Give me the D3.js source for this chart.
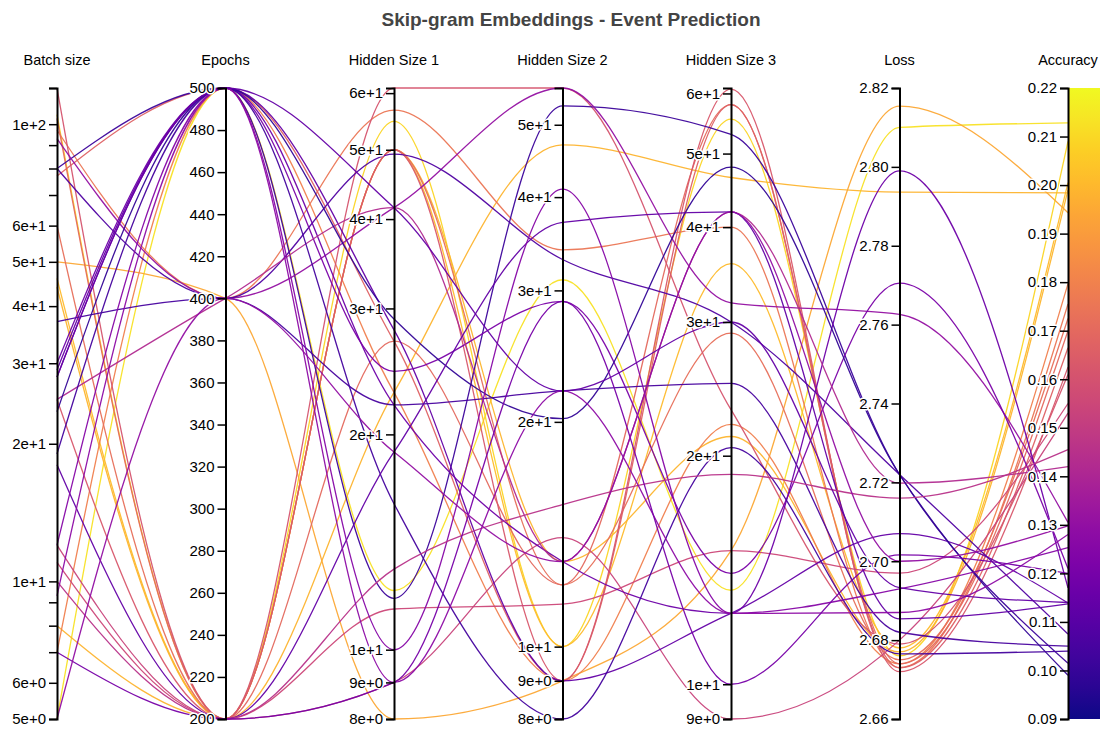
<!DOCTYPE html>
<html>
<head>
<meta charset="utf-8">
<script src="https://cdn.jsdelivr.net/npm/d3@7"></script>
<style>
  body { margin: 0; background: #fff; font-family: "Liberation Sans", Arial, sans-serif; }
  .tick text { font-size: 15px; fill: #000; paint-order: stroke; stroke: #fff; stroke-width: 3px; stroke-linejoin: round; }
</style>
</head>
<body>
<div id="chart"></div>
<script>
const ancho = 1109
const alto = 729

const dimensiones = ["Batch size", "Epochs", "Hidden Size 1", "Hidden Size 2", "Hidden Size 3", "Loss", "Accuracy"]

// one entry per run, same order in every array
const batch = [5, 105, 46, 44, 8, 50, 7, 97, 60, 103, 77, 25, 120, 11, 12,
               80, 93, 80, 37, 29, 30, 28, 25, 23.5, 19, 18, 12, 10, 9.3, 7, 5, 28]
const epochs = [500, 200, 200, 200, 200, 400, 500, 400, 200, 200, 500, 200, 200, 200, 200,
                500, 400, 400, 400, 500, 500, 500, 400, 500, 500, 200, 500, 200, 500, 200, 400, 500]
const hidden1 = [12.1, 54.8, 50, 50, 22.9, 8, 22.9, 56.8, 50, 27, 27, 50, 61, 11.4, 9,
                 11.8, 41.5, 49.3, 22, 28, 22, 24.5, 41.5, 29, 16, 18.9, 10, 12.96, 9, 9, 18.9, 41.5]
const hidden2 = [31, 10, 10, 13, 47, 9, 9, 34, 12.1, 12.1, 9, 9, 56, 11.4, 14,
                 53, 56, 33, 22, 9, 13, 29, 13, 20.2, 8, 37, 41, 15.5, 22, 29, 13, 22]
const hidden3 = [13.3, 55.5, 35.8, 21.2, 46.5, 15, 22, 40, 29, 58, 58, 60.8, 23, 15, 9,
                 53, 31.8, 30, 24.9, 12.4, 12.4, 14, 41.9, 48, 20.5, 41.9, 12.4, 18.9, 12.4, 10, 41.9, 30]
const loss = [2.810, 2.676, 2.678, 2.677, 2.7936, 2.8154, 2.674, 2.673, 2.675, 2.674, 2.673, 2.672, 2.679, 2.697, 2.680,
              2.722, 2.7626, 2.722, 2.682, 2.707, 2.799, 2.7705, 2.7198, 2.722, 2.6765, 2.6854, 2.693, 2.716, 2.687, 2.7016, 2.700, 2.6933]
const accuracy = [0.2128, 0.2090, 0.2005, 0.1990, 0.1984, 0.1943, 0.1797, 0.1755, 0.1725, 0.1700, 0.1665, 0.1625, 0.1610, 0.1550, 0.1530,
                  0.1015, 0.1305, 0.1075, 0.1050, 0.1139, 0.1170, 0.1210, 0.1420, 0.0990, 0.1040, 0.1137, 0.1253, 0.1455, 0.1280, 0.1200, 0.1298, 0.1140]

const batchTicks = [5, 6, 7, 8, 9, 10, 20, 30, 40, 50, 60, 70, 80, 90, 100, 120]
const batchLabels = [5, 6, 10, 20, 30, 40, 50, 60, 100]
const epochTicks = d3.range(200, 501, 20)
const hidden1Ticks = [8, 9, 10, 20, 30, 40, 50, 60]
const hidden2Ticks = [8, 9, 10, 20, 30, 40, 50]
const hidden3Ticks = [9, 10, 20, 30, 40, 50, 60]
const lossTicks = d3.range(0, 9).map(i => 2.66 + i * 0.02)
const accTicks = d3.range(0, 14).map(i => 0.09 + i * 0.01)

const margen = { superior: 88, inferior: 10, izquierdo: 57, derecho: 41 }

const datos = accuracy.map((a, i) => [batch[i], epochs[i], hidden1[i], hidden2[i], hidden3[i], loss[i], a])

const svg = d3.select("#chart").append("svg").attr("width", ancho).attr("height", alto)

const x = d3.scalePoint().domain(dimensiones).range([margen.izquierdo, ancho - margen.derecho])
const rangoY = [alto - margen.inferior, margen.superior]

const escalas = [
  d3.scaleLog().domain([5, 120]).range(rangoY),
  d3.scaleLinear().domain([200, 500]).range(rangoY),
  d3.scaleLog().domain([8, 61]).range(rangoY),
  d3.scaleLog().domain([8, 56]).range(rangoY),
  d3.scaleLog().domain([9, 61]).range(rangoY),
  d3.scaleLinear().domain([2.66, 2.82]).range(rangoY),
  d3.scaleLinear().domain([0.09, 0.22]).range(rangoY)
]

const color = d3.scaleSequential(d3.interpolatePlasma).domain([0.09, 0.22])

// colour bar next to the accuracy axis
const grad = svg.append("defs").append("linearGradient").attr("id", "plasma")
  .attr("x1", 0).attr("y1", 1).attr("x2", 0).attr("y2", 0)
d3.range(0, 1.01, 0.05).forEach(t => {
  grad.append("stop").attr("offset", t).attr("stop-color", d3.interpolatePlasma(t))
})
svg.append("rect")
  .attr("x", x("Accuracy")).attr("y", margen.superior)
  .attr("width", 32).attr("height", rangoY[0] - rangoY[1])
  .attr("fill", "url(#plasma)")

// lines
const linea = d3.line().curve(d3.curveMonotoneX)
svg.append("g").selectAll("path").data(datos).join("path")
  .attr("d", d => linea(d.map((v, i) => [x(dimensiones[i]), escalas[i](v)])))
  .attr("fill", "none")
  .attr("stroke", d => color(d[6]))
  .attr("stroke-width", 1.3)
  .attr("stroke-opacity", 0.95)

// axes
const formatoE = d3.format(".0e")
const ejes = [
  d3.axisLeft(escalas[0]).tickValues(batchTicks).tickFormat(d => batchLabels.includes(d) ? formatoE(d) : ""),
  d3.axisLeft(escalas[1]).tickValues(epochTicks).tickFormat(d3.format("d")),
  d3.axisLeft(escalas[2]).tickValues(hidden1Ticks).tickFormat(formatoE),
  d3.axisLeft(escalas[3]).tickValues(hidden2Ticks).tickFormat(formatoE),
  d3.axisLeft(escalas[4]).tickValues(hidden3Ticks).tickFormat(formatoE),
  d3.axisLeft(escalas[5]).tickValues(lossTicks).tickFormat(d3.format(".2f")),
  d3.axisLeft(escalas[6]).tickValues(accTicks).tickFormat(d3.format(".2f"))
]

dimensiones.forEach((dim, i) => {
  const g = svg.append("g").attr("transform", `translate(${x(dim)},0)`)
  g.call(ejes[i].tickSizeInner(8).tickSizeOuter(8).tickPadding(3))
  g.select(".domain").attr("stroke", "#000").attr("stroke-width", 2)
  g.selectAll(".tick line").attr("stroke", "#000").attr("stroke-width", 1.5)
  g.selectAll(".tick text").style("font-family", "'Liberation Sans', Arial, sans-serif")
  g.append("text")
    .attr("x", 0).attr("y", 65)
    .attr("text-anchor", "middle")
    .style("font-size", "14.5px").style("font-family", "'Liberation Sans', Arial, sans-serif")
    .attr("fill", "#000")
    .text(dim)
})

svg.append("text")
  .attr("x", 571).attr("y", 26)
  .attr("text-anchor", "middle")
  .style("font-size", "19px").style("font-weight", "bold")
  .style("font-family", "'Liberation Sans', Arial, sans-serif")
  .attr("fill", "#444")
  .text("Skip-gram Embeddings - Event Prediction")
</script>
</body>
</html>
